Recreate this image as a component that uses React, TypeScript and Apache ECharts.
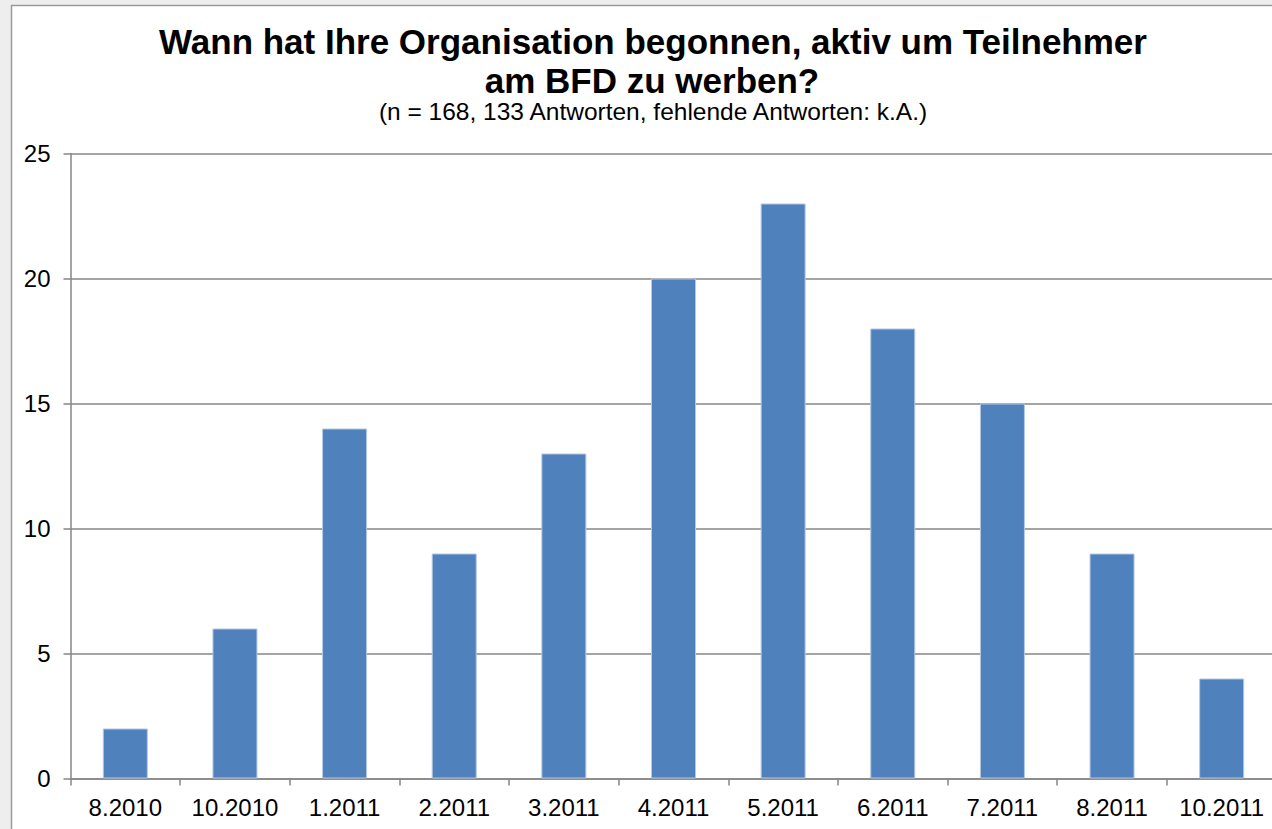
import React, { useEffect, useRef } from "react";
import * as echarts from "echarts";

const categories = ["8.2010", "10.2010", "1.2011", "2.2011", "3.2011", "4.2011", "5.2011", "6.2011", "7.2011", "8.2011", "10.2011"];
const counts = [2, 6, 14, 9, 13, 20, 23, 18, 15, 9, 4];
const titleLines = ["Wann hat Ihre Organisation begonnen, aktiv um Teilnehmer", "am BFD zu werben?"];
const subtitle = "(n = 168, 133 Antworten, fehlende Antworten: k.A.)";

export default function App() {
  const ref = useRef<HTMLDivElement>(null);
  useEffect(() => {
    if (!ref.current) return;
    const chart = echarts.init(ref.current, undefined, { renderer: "svg" });
    const font = "'Liberation Sans', Arial, Helvetica, sans-serif";
    chart.setOption({
      animation: false,
      backgroundColor: "#eeeeee",
      textStyle: { fontFamily: font },
      graphic: [
        {
          type: "rect",
          z: -10,
          silent: true,
          shape: { x: 11.5, y: 5.5, width: 1400, height: 900 },
          style: { fill: "#ffffff", stroke: "#9a9a9a", lineWidth: 1.5 },
        },
        {
          type: "text",
          x: 653,
          y: 41,
          style: { text: titleLines[0], font: `bold 35px ${font}`, fill: "#000", align: "center", verticalAlign: "middle" },
        },
        {
          type: "text",
          x: 652,
          y: 80.5,
          style: { text: titleLines[1], font: `bold 35px ${font}`, fill: "#000", align: "center", verticalAlign: "middle" },
        },
        {
          type: "text",
          x: 653,
          y: 111,
          style: { text: subtitle, font: `24.5px ${font}`, fill: "#000", align: "center", verticalAlign: "middle" },
        },
      ],
      grid: { left: 70.5, top: 153.5, width: 1206, height: 625, containLabel: false },
      xAxis: {
        type: "category",
        data: categories,
        boundaryGap: true,
        axisLine: { show: true, lineStyle: { color: "#868686", width: 1.5 } },
        axisTick: { show: true, alignWithLabel: false, length: 7, lineStyle: { color: "#868686", width: 1.5 } },
        axisLabel: { color: "#000", fontSize: 24, margin: 17, interval: 0, fontFamily: font },
        splitLine: { show: false },
      },
      yAxis: {
        type: "value",
        min: 0,
        max: 25,
        interval: 5,
        axisLine: { show: true, lineStyle: { color: "#868686", width: 1.5 } },
        axisTick: { show: true, length: 7, lineStyle: { color: "#868686", width: 1.5 } },
        axisLabel: { color: "#000", fontSize: 24, margin: 20, fontFamily: font },
        splitLine: { show: true, lineStyle: { color: "#868686", width: 1.5 } },
      },
      series: [
        {
          type: "bar",
          data: counts,
          barWidth: 45,
          itemStyle: { color: "#4f81bd", borderColor: "#b4c8e2", borderWidth: 1 },
        },
      ],
    });
    return () => chart.dispose();
  }, []);
  return (
    <div style={{ position: "fixed", left: 0, top: 0, width: 1272, height: 829, overflow: "hidden", background: "#eeeeee" }}>
      <div ref={ref} style={{ width: 1300, height: 829 }} />
    </div>
  );
}
